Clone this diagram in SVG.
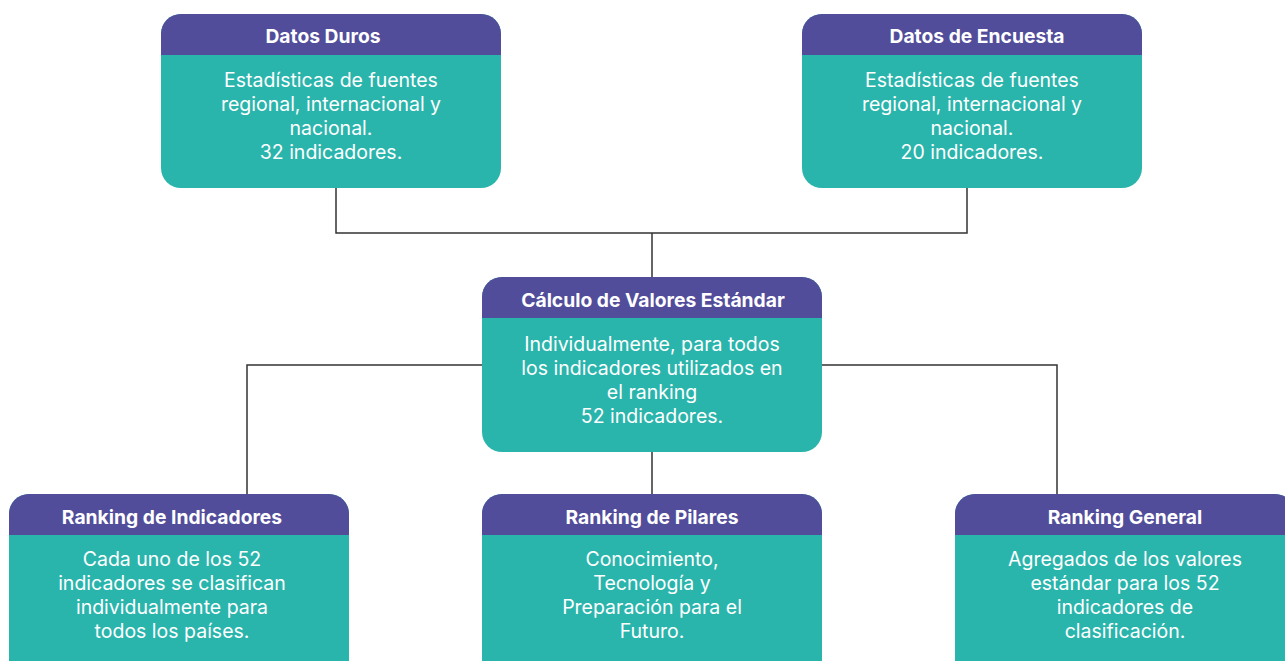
<svg xmlns="http://www.w3.org/2000/svg" width="1285" height="661" viewBox="0 0 1285 661">
<defs>
<style>
.hd{fill:#524D9B}
.bd{fill:#2AB5AC}
.t{font-family:Inter,"Noto Sans",sans-serif;font-weight:700;font-size:19.3px;fill:#fff;text-anchor:middle}
.b{font-family:Inter,"Noto Sans",sans-serif;font-size:19.5px;fill:#fff;text-anchor:middle}
.c{fill:none;stroke:#333;stroke-width:1.5}
</style>
</defs>
<g id="connectors">
<path class="c" d="M336 188V233H967V188M652 233V277"/>
<path class="c" d="M247 494V365H482M822 365H1057V494M652 452V494"/>
</g>
<g id="n-duros">
<rect class="bd" x="161" y="14" width="340" height="174" rx="20"/>
<path class="hd" d="M161 55V34A20 20 0 0 1 181 14H481A20 20 0 0 1 501 34V55Z"/>
<text class="t" x="323" y="43">Datos Duros</text>
<text class="b" x="331" y="87">Estadísticas de fuentes</text>
<text class="b" x="331" y="111">regional, internacional y</text>
<text class="b" x="331" y="135">nacional.</text>
<text class="b" x="331" y="159">32 indicadores.</text>
</g>
<g id="n-encuesta">
<rect class="bd" x="802" y="14" width="340" height="174" rx="20"/>
<path class="hd" d="M802 55V34A20 20 0 0 1 822 14H1122A20 20 0 0 1 1142 34V55Z"/>
<text class="t" x="977" y="43">Datos de Encuesta</text>
<text class="b" x="972" y="87">Estadísticas de fuentes</text>
<text class="b" x="972" y="111">regional, internacional y</text>
<text class="b" x="972" y="135">nacional.</text>
<text class="b" x="972" y="159">20 indicadores.</text>
</g>
<g id="n-calculo">
<rect class="bd" x="482" y="277" width="340" height="175" rx="20"/>
<path class="hd" d="M482 318V297A20 20 0 0 1 502 277H802A20 20 0 0 1 822 297V318Z"/>
<text class="t" x="653" y="307">Cálculo de Valores Estándar</text>
<text class="b" x="652" y="351">Individualmente, para todos</text>
<text class="b" x="652" y="375">los indicadores utilizados en</text>
<text class="b" x="652" y="399">el ranking</text>
<text class="b" x="652" y="423">52 indicadores.</text>
</g>
<g id="n-indicadores">
<rect class="bd" x="9" y="494" width="340" height="190" rx="20"/>
<path class="hd" d="M9 535V514A20 20 0 0 1 29 494H329A20 20 0 0 1 349 514V535Z"/>
<text class="t" x="172" y="524">Ranking de Indicadores</text>
<text class="b" x="172" y="566">Cada uno de los 52</text>
<text class="b" x="172" y="590">indicadores se clasifican</text>
<text class="b" x="172" y="614">individualmente para</text>
<text class="b" x="172" y="638">todos los países.</text>
</g>
<g id="n-pilares">
<rect class="bd" x="482" y="494" width="340" height="190" rx="20"/>
<path class="hd" d="M482 535V514A20 20 0 0 1 502 494H802A20 20 0 0 1 822 514V535Z"/>
<text class="t" x="652" y="524">Ranking de Pilares</text>
<text class="b" x="652" y="566">Conocimiento,</text>
<text class="b" x="652" y="590">Tecnología y</text>
<text class="b" x="652" y="614">Preparación para el</text>
<text class="b" x="652" y="638">Futuro.</text>
</g>
<g id="n-general">
<rect class="bd" x="955" y="494" width="340" height="190" rx="20"/>
<path class="hd" d="M955 535V514A20 20 0 0 1 975 494H1275A20 20 0 0 1 1295 514V535Z"/>
<text class="t" x="1125" y="524">Ranking General</text>
<text class="b" x="1125" y="566">Agregados de los valores</text>
<text class="b" x="1125" y="590">estándar para los 52</text>
<text class="b" x="1125" y="614">indicadores de</text>
<text class="b" x="1125" y="638">clasificación.</text>
</g>
</svg>
